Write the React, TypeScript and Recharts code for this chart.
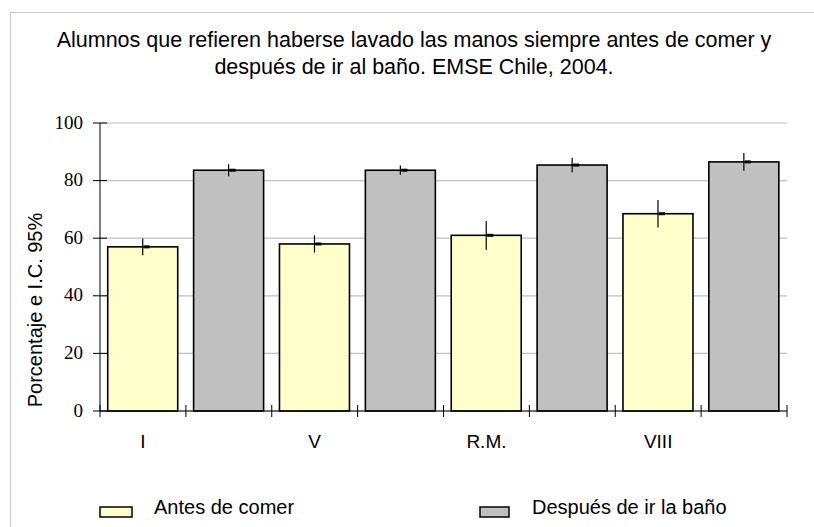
import { Bar, BarChart, CartesianGrid, ErrorBar, XAxis, YAxis } from 'recharts'

const regions = ['I', 'V', 'R.M.', 'VIII']
const antesValues = [57, 58, 61, 68.5]
const antesErrors = [2.9, 3, 5, 4.8]
const despuesValues = [83.6, 83.6, 85.4, 86.5]
const despuesErrors = [2.1, 1.6, 2.5, 3.1]
const yTicks = [0, 20, 40, 60, 80, 100]

const seriesNames = { antes: 'Antes de comer', despues: 'Después de ir la baño' }
const titleLines = [
  'Alumnos que refieren haberse lavado las manos siempre antes de comer y',
  'después de ir al baño. EMSE Chile, 2004.',
]
const yLabel = 'Porcentaje e I.C. 95%'

const ANTES_FILL = '#FFFFCC'
const DESPUES_FILL = '#C0C0C0'
const SANS = '"Liberation Sans", Arial, sans-serif'
const SERIF = '"Liberation Serif", "Times New Roman", serif'

// one category per bar, the region label sits under the first bar of each pair
const data = regions.flatMap((region, i) => [
  {
    key: `${region}-antes`,
    label: region,
    antes: antesValues[i],
    antesErr: antesErrors[i],
    despues: null,
    despuesErr: null,
  },
  {
    key: `${region}-despues`,
    label: '',
    antes: null,
    antesErr: null,
    despues: despuesValues[i],
    despuesErr: despuesErrors[i],
  },
])

const BarShape = (props: any) => {
  const { x, y, width, height, fill } = props
  if (!height || height <= 0) return null
  const cx = x + width / 2
  return (
    <g>
      <rect x={x} y={y} width={width} height={height} fill={fill} stroke="#000" strokeWidth={1.6} />
      <rect x={cx + 1} y={y - 1.5} width={6} height={3} fill="#000" />
    </g>
  )
}

const XTick = (props: any) => {
  const { x, y, payload, index } = props
  const half = payload && payload.offset > 0 ? payload.offset : 42.9
  const row = data[index]
  const last = index === data.length - 1
  return (
    <g>
      <line x1={x - half} x2={x - half} y1={y - 6} y2={y + 6} stroke="#000" />
      {last && <line x1={x + half} x2={x + half} y1={y - 6} y2={y + 6} stroke="#000" />}
      {row && row.label && (
        <text x={x} y={y + 37} textAnchor="middle" fontFamily={SANS} fontSize={19} fill="#000">
          {row.label}
        </text>
      )}
    </g>
  )
}

const YTick = (props: any) => {
  const { x, y, payload } = props
  return (
    <g>
      <line x1={x - 7} x2={x + 7} y1={y} y2={y} stroke="#000" />
      <text x={x - 17} y={y + 5.5} textAnchor="end" fontFamily={SERIF} fontSize={19} fill="#000">
        {payload.value}
      </text>
    </g>
  )
}

const App = () => {
  return (
    <div
      style={{
        position: 'absolute',
        left: 0,
        top: 0,
        width: 814,
        height: 527,
        overflow: 'hidden',
        background: '#fff',
      }}
    >
      <div
        style={{
          position: 'absolute',
          left: 10,
          top: 12,
          width: 830,
          height: 540,
          border: '1.5px solid #c8c8c8',
        }}
      />
      <div style={{ position: 'absolute', left: 0, top: 0 }}>
        <BarChart
          width={814}
          height={527}
          data={data}
          margin={{ top: 123, right: 27, bottom: 76, left: 0 }}
          barCategoryGap="9%"
        >
          <CartesianGrid vertical={false} stroke="#c0c0c0" strokeWidth={1.2} />
          <XAxis
            dataKey="key"
            height={40}
            axisLine={{ stroke: '#000' }}
            tickLine={false}
            tickSize={0}
            tickMargin={0}
            interval={0}
            tick={(p: any) => <XTick {...p} />}
          />
          <YAxis
            width={100}
            domain={[0, 100]}
            ticks={yTicks}
            axisLine={{ stroke: '#000' }}
            tickLine={false}
            tickSize={0}
            tickMargin={0}
            interval={0}
            tick={(p: any) => <YTick {...p} />}
          />
          <Bar
            dataKey="antes"
            name={seriesNames.antes}
            stackId="s"
            fill={ANTES_FILL}
            shape={(p: any) => <BarShape {...p} />}
            isAnimationActive={false}
          >
            <ErrorBar dataKey="antesErr" width={0} stroke="#000" strokeWidth={1.2} />
          </Bar>
          <Bar
            dataKey="despues"
            name={seriesNames.despues}
            stackId="s"
            fill={DESPUES_FILL}
            shape={(p: any) => <BarShape {...p} />}
            isAnimationActive={false}
          >
            <ErrorBar dataKey="despuesErr" width={0} stroke="#000" strokeWidth={1.2} />
          </Bar>
        </BarChart>
      </div>
      <svg
        width={814}
        height={527}
        style={{ position: 'absolute', left: 0, top: 0, pointerEvents: 'none' }}
      >
        {titleLines.map((line, i) => (
          <text
            key={i}
            x={414}
            y={47 + i * 27}
            textAnchor="middle"
            fontFamily={SANS}
            fontSize={21.5}
            fill="#000"
          >
            {line}
          </text>
        ))}
        <text
          transform="translate(42, 310) rotate(-90)"
          textAnchor="middle"
          fontFamily={SANS}
          fontSize={20}
          fill="#000"
        >
          {yLabel}
        </text>
        <rect x={100} y={507} width={32} height={10} fill={ANTES_FILL} stroke="#000" strokeWidth={1.5} />
        <text x={154} y={514} fontFamily={SANS} fontSize={20} fill="#000">
          {seriesNames.antes}
        </text>
        <rect x={480} y={507} width={29} height={10} fill={DESPUES_FILL} stroke="#000" strokeWidth={1.5} />
        <text x={532} y={514} fontFamily={SANS} fontSize={20} fill="#000">
          {seriesNames.despues}
        </text>
      </svg>
    </div>
  )
}

export default App
